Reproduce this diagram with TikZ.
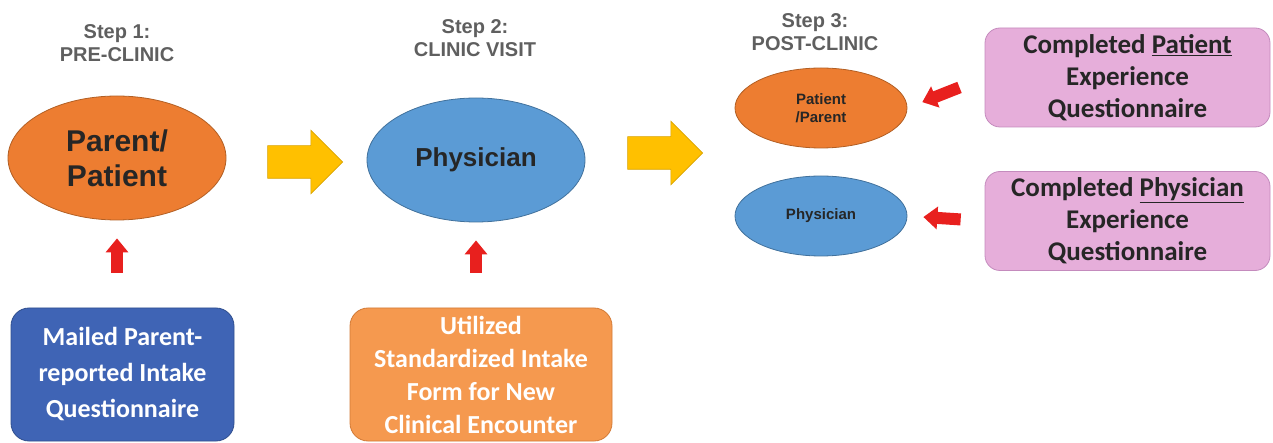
\documentclass[tikz,border=0pt]{standalone}
\usepackage{fontspec}
\setmainfont{Carlito}
\newfontfamily\arialfont{Liberation Sans}
\usetikzlibrary{shapes.geometric,shapes.arrows,arrows.meta}

\definecolor{stepgray}{HTML}{5F5F5F}
\definecolor{ovaltext}{HTML}{262626}
\definecolor{ovalorange}{HTML}{ED7D31}
\definecolor{orangeedge}{HTML}{B25F24}
\definecolor{ovalblue}{HTML}{5B9BD5}
\definecolor{blueedge}{HTML}{41719C}
\definecolor{arrowyellow}{HTML}{FFC000}
\definecolor{yellowedge}{HTML}{D9A300}
\definecolor{arrowred}{HTML}{E8201E}
\definecolor{mailblue}{HTML}{3F64B5}
\definecolor{mailedge}{HTML}{2F4E8E}
\definecolor{formorange}{HTML}{F5994F}
\definecolor{formedge}{HTML}{D27A36}
\definecolor{expink}{HTML}{E6AEDA}
\definecolor{pinkedge}{HTML}{C48BBD}

\tikzset{
	steplabel/.style={align=center,text=stepgray,font=\arialfont\bfseries\fontsize{20}{23}\selectfont},
	oval/.style={ellipse,draw,line width=0.8pt,inner sep=0pt,align=center,text=ovaltext},
	bigoval/.style={oval,minimum width=218pt,minimum height=124pt},
	smalloval/.style={oval,minimum width=172pt,minimum height=80pt,font=\arialfont\bfseries\fontsize{15}{18}\selectfont},
	infobox/.style={draw,line width=0.8pt,rounded corners=18pt,align=center,inner sep=0pt},
	yellowarrow/.style={single arrow,draw=yellowedge,fill=arrowyellow,line width=0.6pt,inner xsep=0pt,inner ysep=16pt,
		minimum height=75pt,single arrow head extend=15.5pt},
	redarrow/.style={draw=arrowred,line width=12pt,-{Triangle[width=22pt,length=14pt]}}
}

\begin{document}
\begin{tikzpicture}[x=1pt,y=-1pt]
		\useasboundingbox (0,0) rectangle (1273,443);

		% steps
		\node[steplabel] (step1) at (117,43) {Step 1:\\PRE-CLINIC};
		\node[steplabel] (step2) at (475,38) {Step 2:\\CLINIC VISIT};
		\node[steplabel] (step3) at (815,32) {Step 3:\\POST-CLINIC};

		\node[bigoval,fill=ovalorange,draw=orangeedge,font=\arialfont\bfseries\fontsize{30}{35}\selectfont] (parent) at (117,158) {Parent/\\Patient};
		\node[bigoval,fill=ovalblue,draw=blueedge,font=\arialfont\bfseries\fontsize{26}{30}\selectfont] (phys) at (476,160) {Physician};
		\node[smalloval,fill=ovalorange,draw=orangeedge] (postpat) at (821,108) {Patient\\/Parent};
		\node[smalloval,fill=ovalblue,draw=blueedge] (postphys) at (821,216) {Physician};

		\node[yellowarrow] (next1) at (297,162) {};
		\node[yellowarrow] (next2) at (657,153) {};

		% boxes
		\node[infobox,fill=mailblue,draw=mailedge,text=white,minimum width=223pt,minimum height=133pt,
			font=\bfseries\fontsize{26}{36}\selectfont] (mailed) at (122.5,374.5) {Mailed Parent-\\reported Intake\\Questionnaire};
		\node[infobox,fill=formorange,draw=formedge,text=white,minimum width=262pt,minimum height=133pt,
			font=\bfseries\fontsize{26}{33}\selectfont] (intake) at (481,374.5) {Utilized\\Standardized Intake\\Form for New\\Clinical Encounter};
		\node[infobox,fill=expink,draw=pinkedge,text=ovaltext,minimum width=285pt,minimum height=99pt,rounded corners=15pt,
			font=\bfseries\fontsize{27}{32}\selectfont] (patquest) at (1127.5,77.5) {Completed \underline{Patient}\\Experience\\Questionnaire};
		\node[infobox,fill=expink,draw=pinkedge,text=ovaltext,minimum width=285pt,minimum height=99pt,rounded corners=15pt,
			font=\bfseries\fontsize{27}{32}\selectfont] (physquest) at (1127.5,221) {Completed \underline{Physician}\\Experience\\Questionnaire};

		% red arrows
		\draw[redarrow,shorten <=35pt,shorten >=18pt] (parent.south |- mailed.north) -- (parent.south);
		\draw[redarrow,shorten <=35pt,shorten >=18pt] (phys.south |- intake.north) -- (phys.south);
		\draw[redarrow,shorten <=27pt,shorten >=16pt] (patquest.west) -- (postpat.east);
		\draw[redarrow,shorten <=24pt,shorten >=16pt] (physquest.west) -- (postphys.east);
	\end{tikzpicture}
\end{document}
